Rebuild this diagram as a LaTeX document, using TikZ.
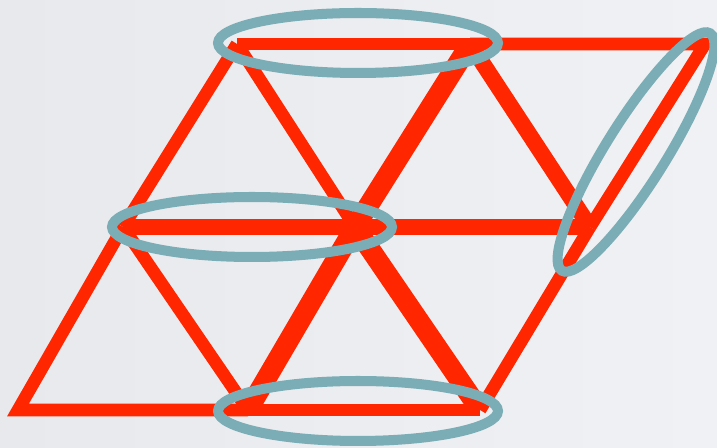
\documentclass[tikz,border=0pt]{standalone}
\usepackage{tikz}
\usetikzlibrary{shapes.geometric}

\definecolor{latred}{RGB}{255,38,0}
\definecolor{ringteal}{RGB}{122,173,181}

\begin{document}
\begin{tikzpicture}[
    x=0.02cm, y=-0.02cm,
    thin edge/.style={draw=latred, line width=7.2pt},
    mid edge/.style={draw=latred, line width=9.2pt},
    thick edge/.style={draw=latred, line width=11.5pt},
    ring/.style={draw=ringteal, ellipse, line width=5.7pt, inner sep=0pt,
                 minimum width=5.6cm, minimum height=1.2cm}
]
\shade[left color={rgb,255:red,231;green,233;blue,237}, right color={rgb,255:red,240;green,241;blue,244}]
    (0,0) rectangle (717,448);
\useasboundingbox (0,0) rectangle (717,448);

% lattice sites
\coordinate (b1) at (18,410);
\coordinate (b2) at (248,410);
\coordinate (b3) at (480,410);
\coordinate (m1) at (123,227);
\coordinate (m2) at (355,227);
\coordinate (m3) at (590,227);
\coordinate (t1) at (237,44);
\coordinate (t2) at (470,44);
\coordinate (t3) at (705,44);

% bonds
\draw[thin edge] (b2) -- (b1) -- (m1);
\draw[thin edge] (b2) -- (b3);
\draw[thin edge] (m1) -- (b2);
\draw[thick edge] (b2) -- (m2);
\draw[thick edge] (m2) -- (b3);
\draw[thin edge] (b3) -- (m3);
\draw[mid edge] (m1) -- (m2);
\draw[mid edge] (m2) -- (m3);
\draw[thin edge] (m1) -- (t1);
\draw[thin edge] (t1) -- (m2);
\draw[thick edge] (m2) -- (t2);
\draw[mid edge] (t2) -- (m3);
\draw[thin edge] (t1) -- (t2);
\draw[thin edge] (t2) -- (t3) -- (m3);

% dimer rings
\node[ring] (toprow) at (358,43) {};
\node[ring] (midrow) at (252,227) {};
\node[ring] (botrow) at (358,411) {};
\node[ring, rotate=58] (siderow) at (636,152) {};
\end{tikzpicture}
\end{document}
